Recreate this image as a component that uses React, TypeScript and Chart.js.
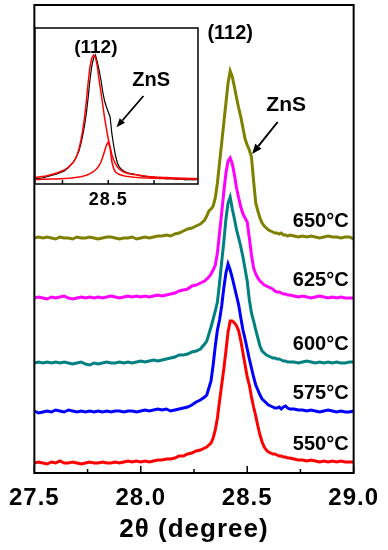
import { useEffect, useRef } from "react";
import { Chart, registerables } from "chart.js";
Chart.register(...registerables);

const FONT = '"Liberation Sans", Arial, sans-serif';

// 2θ grid (degree)
const THETA = [
  27.5, 27.52, 27.54, 27.56, 27.58, 27.6, 27.62, 27.64, 27.66, 27.68,
  27.7, 27.72, 27.74, 27.76, 27.78, 27.8, 27.82, 27.84, 27.86, 27.88,
  27.9, 27.92, 27.94, 27.96, 27.98, 28.0, 28.02, 28.04, 28.06, 28.08,
  28.1, 28.12, 28.14, 28.16, 28.18, 28.2, 28.22, 28.24, 28.26, 28.28,
  28.3,
  28.31, 28.32, 28.33, 28.34, 28.35, 28.36, 28.37, 28.38, 28.39, 28.4,
  28.41, 28.42, 28.43, 28.44, 28.45, 28.46, 28.47, 28.48, 28.49, 28.5,
  28.51, 28.52, 28.53, 28.54, 28.55, 28.56, 28.57, 28.58, 28.59, 28.6,
  28.61, 28.62, 28.63, 28.64, 28.65, 28.66, 28.67, 28.68, 28.69, 28.7,
  28.72, 28.74, 28.76, 28.78, 28.8, 28.82, 28.84, 28.86, 28.88, 28.9,
  28.92, 28.94, 28.96, 28.98, 29.0,
];

// stacked intensities (a.u., offset)
const I_550 = [
  10, 11, 10, 9, 11, 10, 12, 10, 10, 11, 10, 9, 10, 11, 10, 10, 11, 10, 10, 11,
  10, 11, 12, 11, 12, 11, 12, 11, 12, 13, 13, 14, 14, 15, 17, 17, 19, 20, 22, 23,
  25,
  26, 28, 30, 35, 43, 55, 72, 88, 104, 122, 141, 152, 152, 150, 147, 142, 132, 120, 108, 96,
  88, 76, 66, 57, 47, 38, 31, 26, 23, 21, 20, 19, 19, 18, 17, 17, 16, 16, 15, 15,
  14, 13, 13, 12, 13, 12, 11, 12, 11, 12, 11, 12, 11, 11, 11,
];
const I_575 = [
  62, 60, 61, 62, 61, 63, 62, 61, 63, 62, 61, 62, 61, 62, 61, 62, 61, 62, 61, 62,
  62, 61, 62, 62, 61, 62, 63, 62, 63, 64, 63, 64, 62, 63, 64, 65, 66, 68, 71, 73,
  76,
  78, 85, 92, 108, 127, 143, 153, 167, 185, 200, 209, 203, 195, 186, 177, 168, 155, 143, 134, 124,
  114, 105, 96, 88, 83, 78, 74, 72, 70, 68, 67, 66, 65, 65, 66, 64, 66, 67, 65, 64,
  64, 63, 63, 62, 63, 62, 61, 62, 63, 62, 61, 62, 61, 61, 62,
];
const I_600 = [
  110, 111, 110, 111, 110, 111, 110, 111, 110, 109, 110, 111, 109, 108, 110, 109, 110, 111, 110, 110,
  111, 110, 111, 110, 111, 112, 111, 112, 113, 112, 113, 114, 115, 116, 118, 118, 119, 121, 122, 124,
  129,
  132, 139, 146, 154, 162, 171, 190, 211, 231, 254, 270, 276, 264, 254, 243, 235, 226, 216, 204, 192,
  173, 160, 152, 143, 135, 127, 122, 120, 118, 117, 116, 115, 115, 114, 114, 113, 112, 112, 111, 111,
  111, 110, 111, 112, 111, 110, 111, 110, 111, 110, 111, 110, 110, 111, 111,
];
const I_625 = [
  175, 176, 175, 174, 176, 175, 176, 177, 175, 174, 175, 176, 175, 176, 175, 176, 175, 176, 177, 176,
  175, 176, 177, 176, 177, 176, 177, 176, 177, 178, 177, 178, 179, 180, 182, 183, 184, 187, 188, 190,
  192,
  194, 196, 199, 203, 208, 220, 240, 260, 281, 300, 312, 315, 309, 298, 285, 275, 266, 259, 255, 251,
  235, 218, 205, 199, 195, 192, 190, 188, 187, 186, 185, 184, 182, 181, 181, 180, 179, 179, 178, 178,
  177, 176, 177, 176, 175, 176, 177, 176, 175, 176, 175, 176, 175, 175, 175,
];
const I_650 = [
  235, 236, 235, 236, 235, 234, 236, 235, 235, 234, 236, 235, 235, 236, 235, 234, 235, 236, 236, 235,
  234, 235, 235, 236, 234, 235, 236, 235, 236, 237, 237, 238, 237, 239, 240, 242, 244, 245, 247, 249,
  253,
  257, 262, 264, 267, 275, 290, 310, 330, 350, 370, 390, 402, 396, 386, 375, 365, 356, 345, 334, 328,
  323, 316, 292, 270, 262, 255, 250, 247, 245, 243, 242, 241, 240, 240, 239, 240, 238, 238, 237, 238,
  237, 236, 237, 236, 237, 236, 235, 236, 237, 236, 236, 235, 236, 236, 234,
];

const TEMPS = ["550°C", "575°C", "600°C", "625°C", "650°C"];
const COLORS = ["#FF0000", "#0000FF", "#008080", "#FF00FF", "#808000"];
const SERIES = [I_550, I_575, I_600, I_625, I_650];

const X_TICKS = [27.5, 28.0, 28.5, 29.0];
const X_MINOR = [27.75, 28.25, 28.75];
const X_TITLE = "2θ (degree)";

// inset
const INSET_THETA = [
  28.1, 28.12, 28.14, 28.16, 28.18, 28.2, 28.22, 28.24, 28.26, 28.28, 28.3,
  28.31, 28.32, 28.33, 28.34, 28.35, 28.36, 28.37, 28.38, 28.39, 28.4,
  28.41, 28.42, 28.43, 28.44, 28.45, 28.46, 28.47, 28.48, 28.49, 28.5,
  28.51, 28.52, 28.53, 28.54, 28.55, 28.56, 28.57, 28.58, 28.59, 28.6,
  28.62, 28.64, 28.66, 28.68, 28.7, 28.72, 28.74, 28.76, 28.78, 28.8,
  28.82, 28.84, 28.86, 28.88, 28.9, 28.92, 28.94, 28.96, 28.98, 29.0,
];
const INSET_MEAS = [
  5, 5.5, 6, 7, 8, 9, 10, 11.5, 13, 16, 20,
  22, 25, 29, 33, 40, 48, 58, 70, 86, 104,
  118, 126, 129, 122, 114, 104, 92, 83, 77, 72,
  67, 50, 38, 28, 21, 17, 15, 13.5, 12.5, 11.5,
  10.5, 10, 9, 8, 7.5, 7, 6.5, 6, 6, 5.5,
  5, 5.5, 5, 4.5, 5, 4, 4.5, 4, 4.5, 4,
];
const INSET_FIT_112 = [
  6.5, 7, 7.5, 8, 9, 10, 11, 12.5, 14, 16.5, 20,
  22, 25, 29, 35, 43, 53, 66, 82, 101, 117,
  126, 129, 127, 118, 104, 92, 79, 66, 55, 45,
  37, 29, 24, 20, 17, 15, 13.5, 12.5, 11.5, 11,
  10, 9.5, 9, 8.5, 8, 7.5, 7.3, 7, 6.8, 6.6,
  6.4, 6.2, 6, 6, 5.8, 5.7, 5.6, 5.5, 5.4, 5.3,
];
const INSET_FIT_ZNS = [
  4.5, 4.6, 4.7, 4.8, 4.9, 5, 5.1, 5.3, 5.5, 5.7, 6,
  6.2, 6.4, 6.7, 7, 7.3, 7.7, 8.2, 8.8, 9.5, 10.3,
  11.3, 12.5, 14, 16, 18.5, 22, 27, 33, 39, 42,
  36, 22, 15, 12, 10.5, 9.5, 9, 8.5, 8, 7.7,
  7.2, 6.8, 6.5, 6.2, 6, 5.9, 5.8, 5.7, 5.6, 5.5,
  5.4, 5.3, 5.2, 5.1, 5, 5, 4.9, 4.9, 4.8, 4.8,
];
const INSET_TICKS = [28.25, 28.5, 28.75];
const INSET_LABELS = [28.5];

function arrow(ctx: CanvasRenderingContext2D, x1: number, y1: number, x2: number, y2: number, lw: number, hl: number, hw: number) {
  const a = Math.atan2(y2 - y1, x2 - x1);
  const bx = x2 - hl * Math.cos(a);
  const by = y2 - hl * Math.sin(a);
  ctx.save();
  ctx.strokeStyle = "#000";
  ctx.fillStyle = "#000";
  ctx.lineWidth = lw;
  ctx.beginPath();
  ctx.moveTo(x1, y1);
  ctx.lineTo(bx, by);
  ctx.stroke();
  ctx.beginPath();
  ctx.moveTo(x2, y2);
  ctx.lineTo(bx + (hw / 2) * Math.sin(a), by - (hw / 2) * Math.cos(a));
  ctx.lineTo(bx - (hw / 2) * Math.sin(a), by + (hw / 2) * Math.cos(a));
  ctx.closePath();
  ctx.fill();
  ctx.restore();
}

const mainPlugin = {
  id: "mainDecor",
  beforeDraw(chart: any) {
    (chart.ctx as any).letterSpacing = "1px";
  },
  afterDraw(chart: any) {
    const { ctx, chartArea: a, scales } = chart;
    (ctx as any).letterSpacing = "0px";
    const xs = scales.x;
    const ys = scales.y;
    ctx.save();
    ctx.strokeStyle = "#000";
    ctx.lineWidth = 2;
    ctx.strokeRect(a.left, a.top, a.right - a.left, a.bottom - a.top);
    ctx.lineWidth = 1.5;
    X_TICKS.forEach((v) => {
      const x = xs.getPixelForValue(v);
      ctx.beginPath();
      ctx.moveTo(x, a.bottom);
      ctx.lineTo(x, a.bottom - 7);
      ctx.stroke();
    });
    X_MINOR.forEach((v) => {
      const x = xs.getPixelForValue(v);
      ctx.beginPath();
      ctx.moveTo(x, a.bottom);
      ctx.lineTo(x, a.bottom - 4);
      ctx.stroke();
    });
    ctx.fillStyle = "#000";
    ctx.font = `bold 20px ${FONT}`;
    ctx.textBaseline = "middle";
    ctx.textAlign = "right";
    SERIES.forEach((s, i) => {
      const y = ys.getPixelForValue(s[s.length - 1]) - 18;
      ctx.fillText(TEMPS[i], a.right - 5, y);
    });
    ctx.textAlign = "center";
    ctx.font = `bold 20px ${FONT}`;
    ctx.fillText("(112)", xs.getPixelForValue(28.42), ys.getPixelForValue(440));
    ctx.font = `bold 21px ${FONT}`;
    ctx.fillText("ZnS", xs.getPixelForValue(28.683), ys.getPixelForValue(368));
    ctx.restore();
    arrow(ctx, xs.getPixelForValue(28.643), ys.getPixelForValue(351), xs.getPixelForValue(28.523), ys.getPixelForValue(319), 2, 10, 8);
  },
};

const insetPlugin = {
  id: "insetDecor",
  beforeDraw(chart: any) {
    (chart.ctx as any).letterSpacing = "1px";
  },
  beforeDatasetsDraw(chart: any) {
    const { ctx, chartArea: a } = chart;
    ctx.save();
    ctx.fillStyle = "#fff";
    ctx.fillRect(a.left, a.top, a.right - a.left, a.bottom - a.top);
    ctx.restore();
  },
  afterDraw(chart: any) {
    const { ctx, chartArea: a, scales } = chart;
    (ctx as any).letterSpacing = "0px";
    const xs = scales.x;
    const ys = scales.y;
    ctx.save();
    ctx.strokeStyle = "#000";
    ctx.lineWidth = 1.5;
    ctx.strokeRect(a.left, a.top, a.right - a.left, a.bottom - a.top);
    INSET_TICKS.forEach((v) => {
      const x = xs.getPixelForValue(v);
      ctx.beginPath();
      ctx.moveTo(x, a.bottom);
      ctx.lineTo(x, a.bottom - 4);
      ctx.stroke();
    });
    ctx.fillStyle = "#000";
    ctx.textAlign = "center";
    ctx.textBaseline = "middle";
    ctx.font = `bold 19px ${FONT}`;
    ctx.fillText("(112)", xs.getPixelForValue(28.432), ys.getPixelForValue(136));
    ctx.font = `bold 20px ${FONT}`;
    ctx.fillText("ZnS", xs.getPixelForValue(28.734), ys.getPixelForValue(104));
    ctx.restore();
    arrow(ctx, xs.getPixelForValue(28.692), ys.getPixelForValue(88), xs.getPixelForValue(28.545), ys.getPixelForValue(56.7), 1.8, 9, 7);
  },
};

export default function App() {
  const mainRef = useRef<HTMLCanvasElement>(null);
  const insetRef = useRef<HTMLCanvasElement>(null);

  useEffect(() => {
    document.body.style.margin = "0";
    const main = new Chart(mainRef.current as HTMLCanvasElement, {
      type: "line",
      data: {
        datasets: SERIES.map((s, i) => ({
          label: TEMPS[i],
          data: THETA.map((x, j) => ({ x, y: s[j] })),
          borderColor: COLORS[i],
          borderWidth: 3,
          pointRadius: 0,
          fill: false,
          tension: 0,
        })),
      },
      options: {
        responsive: false,
        maintainAspectRatio: false,
        animation: false,
        layout: { padding: { left: 31, right: 30, top: 5, bottom: 5 } },
        plugins: { legend: { display: false }, tooltip: { enabled: false } },
        scales: {
          x: {
            type: "linear",
            min: 27.5,
            max: 29.0,
            grid: { display: false, drawTicks: false },
            border: { display: false },
            afterBuildTicks: (s: any) => {
              s.ticks = X_TICKS.map((v) => ({ value: v }));
            },
            afterFit: (s: any) => {
              s.height = 72;
            },
            ticks: {
              callback: (v: any) => Number(v).toFixed(1),
              font: { family: FONT, size: 24, weight: "bold" },
              color: "#000",
              padding: 11,
              maxRotation: 0,
              autoSkip: false,
            },
            title: {
              display: true,
              text: X_TITLE,
              font: { family: FONT, size: 26, weight: "bold" },
              color: "#000",
              padding: { top: 0, bottom: 0 },
            },
          },
          y: { display: false, min: 0, max: 468 },
        },
      } as any,
      plugins: [mainPlugin],
    });

    const inset = new Chart(insetRef.current as HTMLCanvasElement, {
      type: "line",
      data: {
        datasets: [
          { label: "fit (112)", data: INSET_THETA.map((x, j) => ({ x, y: INSET_FIT_112[j] })), borderColor: "#FF0000", borderWidth: 1.5 },
          { label: "fit ZnS", data: INSET_THETA.map((x, j) => ({ x, y: INSET_FIT_ZNS[j] })), borderColor: "#FF0000", borderWidth: 1.5 },
          { label: "measured", data: INSET_THETA.map((x, j) => ({ x, y: INSET_MEAS[j] })), borderColor: "#000000", borderWidth: 1.2 },
        ].map((d) => ({ ...d, pointRadius: 0, fill: false, tension: 0 })),
      },
      options: {
        responsive: false,
        maintainAspectRatio: false,
        animation: false,
        layout: { padding: { left: 5, right: 7, top: 5, bottom: 0 } },
        plugins: { legend: { display: false }, tooltip: { enabled: false } },
        scales: {
          x: {
            type: "linear",
            min: 28.1,
            max: 28.99,
            grid: { display: false, drawTicks: false },
            border: { display: false },
            afterBuildTicks: (s: any) => {
              s.ticks = INSET_LABELS.map((v) => ({ value: v }));
            },
            afterFit: (s: any) => {
              s.height = 29;
            },
            ticks: {
              callback: (v: any) => Number(v).toFixed(1),
              font: { family: FONT, size: 18, weight: "bold" },
              color: "#000",
              padding: 5,
              maxRotation: 0,
              autoSkip: false,
            },
          },
          y: { display: false, min: 0, max: 156 },
        },
      } as any,
      plugins: [insetPlugin],
    });

    return () => {
      main.destroy();
      inset.destroy();
    };
  }, []);

  return (
    <div style={{ position: "relative", width: 388, height: 550, background: "#fff" }}>
      <canvas ref={mainRef} width={388} height={550} style={{ position: "absolute", left: 0, top: 0 }} />
      <canvas ref={insetRef} width={175} height={190} style={{ position: "absolute", left: 30, top: 23 }} />
    </div>
  );
}
